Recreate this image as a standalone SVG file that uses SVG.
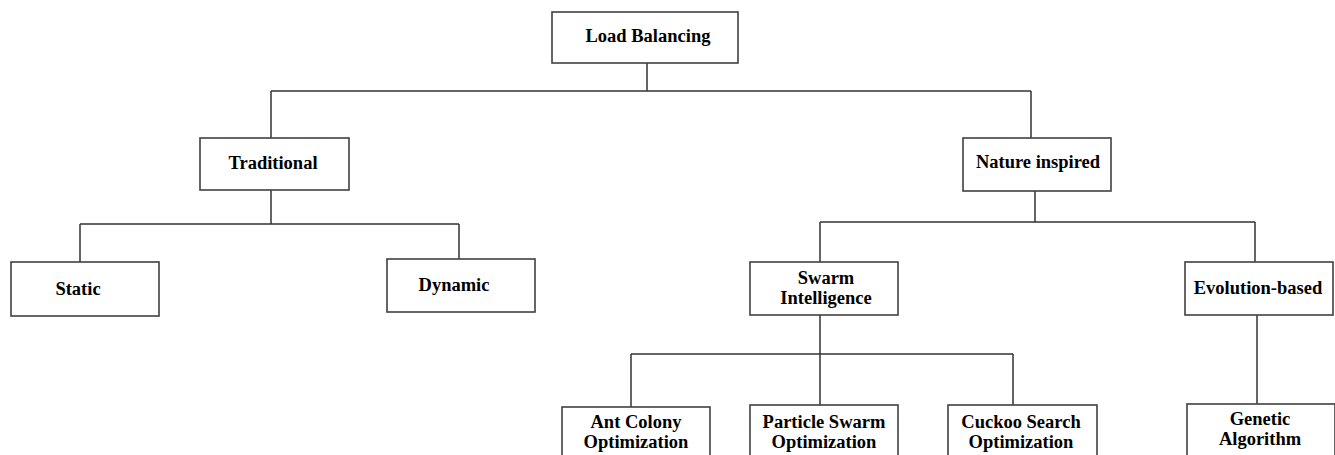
<svg xmlns="http://www.w3.org/2000/svg" width="1335" height="455" viewBox="0 0 1335 455">
<style>
.box{fill:#fff;stroke:#404040;stroke-width:1.6}
.lbl{font-family:"Liberation Serif","Times New Roman",serif;font-weight:bold;font-size:18.5px;fill:#000;text-anchor:middle}
.conn{fill:none;stroke:#333;stroke-width:1.5}
</style>
<rect width="1335" height="455" fill="#fff"/>
<g id="connectors">
<path class="conn" d="M647 63V91M271 91H1031M271 91V138M1031 91V138"/>
<path class="conn" d="M271 190V224M80 224H459M80 224V262M459 224V259"/>
<path class="conn" d="M1035 191V222M820 222H1255M820 222V262M1255 222V262"/>
<path class="conn" d="M820 315V354M631 354H1013M631 354V407M820 354V405M1013 354V405"/>
<path class="conn" d="M1257 315V404"/>
</g>
<g id="load-balancing"><rect class="box" x="552" y="12" width="186" height="51"/><text class="lbl" x="648" y="42">Load Balancing</text></g>
<g id="traditional"><rect class="box" x="200" y="138" width="149" height="52"/><text class="lbl" x="273" y="169">Traditional</text></g>
<g id="static"><rect class="box" x="11" y="262" width="148" height="54"/><text class="lbl" x="78" y="295">Static</text></g>
<g id="dynamic"><rect class="box" x="387" y="259" width="148" height="53"/><text class="lbl" x="454" y="291">Dynamic</text></g>
<g id="nature-inspired"><rect class="box" x="963" y="138" width="148" height="53"/><text class="lbl" x="1038" y="168">Nature inspired</text></g>
<g id="swarm-intelligence"><rect class="box" x="750" y="262" width="148" height="53"/><text class="lbl" x="826" y="284">Swarm</text><text class="lbl" x="826" y="304">Intelligence</text></g>
<g id="evolution-based"><rect class="box" x="1185" y="262" width="148" height="53"/><text class="lbl" x="1258" y="294">Evolution-based</text></g>
<g id="ant-colony"><rect class="box" x="562" y="407" width="148" height="60"/><text class="lbl" x="636" y="428">Ant Colony</text><text class="lbl" x="636" y="448">Optimization</text></g>
<g id="particle-swarm"><rect class="box" x="750" y="405" width="148" height="62"/><text class="lbl" x="824" y="428">Particle Swarm</text><text class="lbl" x="824" y="448">Optimization</text></g>
<g id="cuckoo-search"><rect class="box" x="948" y="405" width="149" height="62"/><text class="lbl" x="1021" y="428">Cuckoo Search</text><text class="lbl" x="1021" y="448">Optimization</text></g>
<g id="genetic-algorithm"><rect class="box" x="1187" y="404" width="148" height="63"/><text class="lbl" x="1260" y="425">Genetic</text><text class="lbl" x="1260" y="445">Algorithm</text></g>
</svg>
